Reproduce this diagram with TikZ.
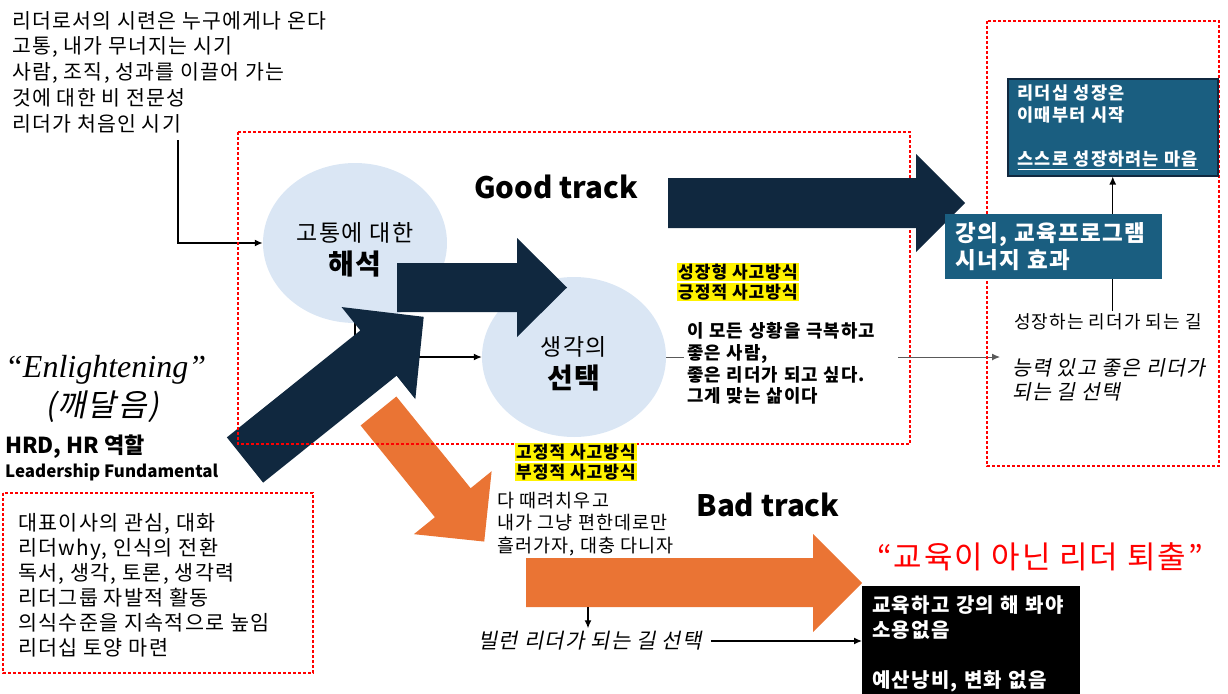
\documentclass[tikz,border=0pt]{standalone}
\usepackage{fontspec}
\setmainfont{Noto Sans CJK KR}[LetterSpace=6]
\newfontfamily\slantfont{Noto Sans CJK KR}[FakeSlant=0.2, LetterSpace=6]
\newfontfamily\plainfont{Noto Sans CJK KR}
\newfontfamily\enfont{Liberation Serif}
\usetikzlibrary{arrows.meta,shapes.geometric}

\definecolor{navy}{HTML}{10283F}
\definecolor{orng}{HTML}{EA7434}
\definecolor{boxblue}{HTML}{1A5E80}
\definecolor{pale}{HTML}{DAE6F4}

\tikzset{
  redframe/.style={red, line width=2.6pt, dash pattern=on 2.6pt off 2.4pt},
  bubble/.style={ellipse, fill=pale, minimum width=184pt, minimum height=160pt, inner sep=0pt, align=center},
  memo/.style={anchor=west, align=left, inner sep=0pt},
  hl/.style={anchor=west, fill=yellow, inner sep=1pt, font=\bfseries\fontsize{17}{20}\selectfont},
  link/.style={->, line width=1.3pt},
  track/.style={font=\plainfont\bfseries\fontsize{29.5}{34}\selectfont},
}

\begin{document}
\begin{tikzpicture}[x=1pt, y=-1pt, >={Latex[length=8pt,width=7pt]}]
    \useasboundingbox (0,0) rectangle (1228,693);

    % 시련
    \node[memo, font=\fontsize{20.5}{25.75}\selectfont] (trial) at (12,72)
        {리더로서의 시련은 누구에게나 온다\\고통, 내가 무너지는 시기\\사람, 조직, 성과를 이끌어 가는\\것에 대한 비 전문성\\리더가 처음인 시기};
    \coordinate (trialend) at (178,140);

    % 해석, 선택
    \node[bubble] (haeseok) at (355,243)
        {{\fontsize{23}{26}\selectfont\rule{0pt}{33pt}고통에 대한}\\[7pt]{\bfseries\fontsize{28}{32}\selectfont 해석}};
    \node[bubble] (seontaek) at (574,357)
        {{\fontsize{23}{26}\selectfont\rule{0pt}{33pt}생각의}\\[7pt]{\bfseries\fontsize{28}{32}\selectfont 선택}};

    \draw[link, line width=1.8pt] (trialend) |- (haeseok.west);
    \draw[link] (haeseok.south) |- (seontaek.west);

    % 굵은 화살표
    \fill[navy] (397,263) -- (517,263) -- (517,238) -- (567,287.5) -- (517,337) -- (517,312) -- (397,312) -- cycle;
    \begin{scope}[shift={(245,460)}, rotate=38.7]
        \fill[navy] (0,-29) -- (171,-29) -- (171,-59) -- (229,0) -- (171,59) -- (171,29) -- (0,29) -- cycle;
    \end{scope}
    \begin{scope}[shift={(378.5,411)}, rotate=-51]
        \fill[orng] (0,-23) -- (118,-23) -- (118,-50) -- (168,0) -- (118,50) -- (118,23) -- (0,23) -- cycle;
    \end{scope}

    \draw[redframe] (238,132) rectangle (910,444);

    % Good track
    \fill[navy] (668,178) -- (916,178) -- (916,154) -- (965,203) -- (916,252) -- (916,228) -- (668,228) -- cycle;
    \node[track] (good) at (556,187) {Good track};

    \node[hl] (growth) at (677,272) {성장형 사고방식};
    \node[hl] (positive) at (677,292) {긍정적 사고방식};

    \node[memo, font=\slantfont\fontsize{20.5}{24}\selectfont] (neung) at (1012,380)
        {능력 있고 좋은 리더가\\ 되는 길 선택};
    \draw[link, line width=1pt, black!65] (seontaek.east) -- ([xshift=-12pt]seontaek.east -| neung.west);
    \node[memo, fill=white, inner sep=3pt, text width=208pt, font=\bfseries\fontsize{17.8}{21.7}\selectfont] (wish) at (684,363.5)
        {이 모든 상황을 극복하고\\좋은 사람,\\좋은 리더가 되고 싶다.\\그게 맞는 삶이다};

    % 오른쪽
    \draw[redframe] (987,21) rectangle (1219,466);
    \node[anchor=north west, fill=boxblue, draw=navy, line width=1.5pt, text=white, align=left,
          text width=190pt, inner xsep=10pt, minimum height=97pt, font=\bfseries\fontsize{17.5}{22}\selectfont] (growbox) at (1007,78)
        {리더십 성장은\\이때부터 시작\\[22pt]\underline{스스로 성장하려는 마음}};
    \node[font=\fontsize{18}{20}\selectfont, inner sep=3pt] (growlbl) at (1108,322) {성장하는 리더가 되는 길};
    \draw[link] (growlbl.north -| growbox.south) -- (growbox.south);
    \node[anchor=north west, fill=boxblue, text=white, align=left, text width=197pt, inner xsep=10pt,
          minimum height=65pt, font=\bfseries\fontsize{22.5}{27}\selectfont] (synergy) at (945,214)
        {강의, 교육프로그램\\시너지 효과};

    % Bad track
    \node[hl] (fixed) at (515,452) {고정적 사고방식};
    \node[hl] (negative) at (515,472) {부정적 사고방식};
    \node[memo, font=\fontsize{18.5}{22.5}\selectfont] (quit) at (497,524)
        {다 때려치우고\\내가 그냥 편한데로만\\흘러가자, 대충 다니자};
    \node[track] (bad) at (768,505) {Bad track};
    \fill[orng] (526,558) -- (813,558) -- (813,534) -- (862,583) -- (813,632) -- (813,607) -- (526,607) -- cycle;
    \coordinate (badbot) at (588,607);

    \node[font=\slantfont\fontsize{21}{24}\selectfont, inner sep=3pt] (villain) at (590,641) {빌런 리더가 되는 길 선택};
    \node[anchor=north west, fill=black, text=white, align=left, text width=198pt, inner xsep=10pt,
          minimum height=115pt, font=\bfseries\fontsize{20}{25}\selectfont] (blackbox) at (862,586)
        {교육하고 강의 해 봐야\\소용없음\\[25pt]예산낭비, 변화 없음};
    \draw[link] (badbot) -- (badbot |- villain.north);
    \draw[link, shorten <=6pt] (villain.east) -- (villain.east -| blackbox.west);
    \node[red, font=\fontsize{31}{36}\selectfont] (outcry) at (1040,557) {“교육이 아닌 리더 퇴출”};

    % 왼쪽
    \node[memo, font=\enfont\itshape\fontsize{32}{36}\selectfont] (enl) at (5,370) {“Enlightening”};
    \node[memo, font=\slantfont\fontsize{31}{34}\selectfont] (kkae) at (45,407) {(깨달음)};
    \node[memo, font=\plainfont\bfseries\fontsize{22}{26}\selectfont] (hrd) at (5,447) {HRD, HR 역할};
    \node[memo, font=\plainfont\bfseries\fontsize{16.9}{20}\selectfont] (fund) at (5,472) {Leadership Fundamental};

    \draw[redframe] (3,493) rectangle (313,673);
    \node[memo, font=\fontsize{20.7}{25}\selectfont] (soil) at (18,585.5)
        {대표이사의 관심, 대화\\리더why, 인식의 전환\\독서, 생각, 토론, 생각력\\리더그룹 자발적 활동\\의식수준을 지속적으로 높임\\리더십 토양 마련};
\end{tikzpicture}
\end{document}
